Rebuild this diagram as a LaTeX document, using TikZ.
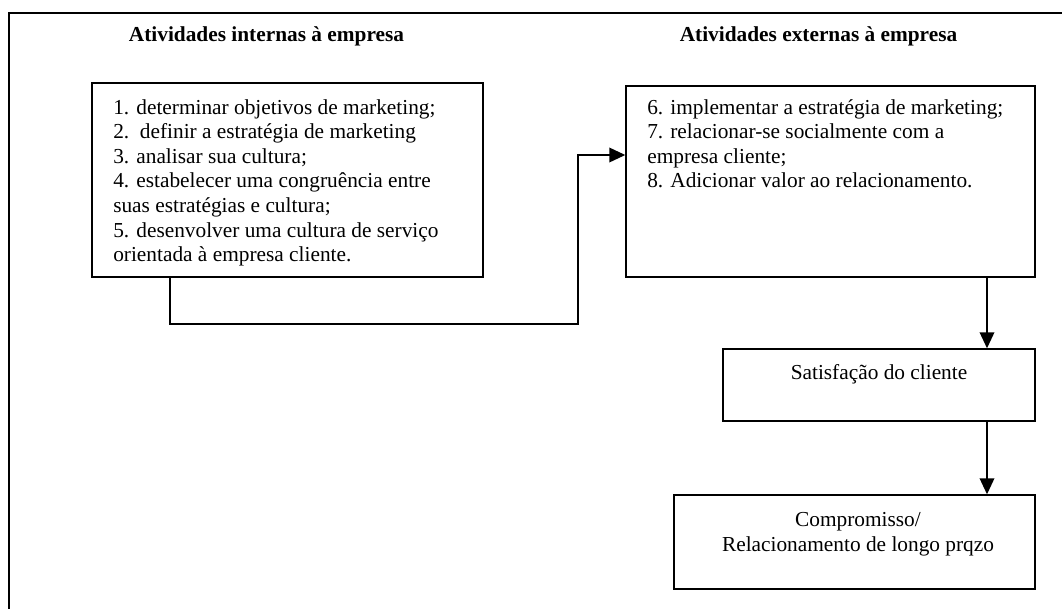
\documentclass[tikz,border=0pt]{standalone}
\usepackage{fontspec}
\setmainfont{Liberation Serif}
\usetikzlibrary{arrows.meta,fit}
\begin{document}
\begin{tikzpicture}[x=0.75pt,y=-0.75pt,
  every node/.style={font=\fontsize{16pt}{18.45pt}\selectfont},
  boxstyle/.style={draw,line width=1.1pt,inner sep=0pt},
  txt/.style={inner sep=0pt,align=left},
  ttl/.style={inner sep=0pt,font=\fontsize{16pt}{18.45pt}\selectfont\bfseries},
  arr/.style={line width=1.1pt,-{Triangle[length=12pt,width=11pt]}}]
\useasboundingbox (0,0) rectangle (1062,608);
% outer frame (cut off at right and bottom)
\draw[line width=1.1pt] (1070,13) -- (9,13) -- (9,616);
% titles
\node[ttl,anchor=base] (h1) at (266.5,41) {Atividades internas à empresa};
\node[ttl,anchor=base] (h2) at (818.5,41) {Atividades externas à empresa};
% boxes
\node[boxstyle,fit={(92,83) (483,277)}] (b1) {};
\node[boxstyle,fit={(626,86) (1035,277)}] (b2) {};
\node[boxstyle,fit={(723,349) (1035,421)}] (b3) {};
\node[boxstyle,fit={(674,495) (1035,589)}] (b4) {};
% texts
\node[txt,anchor=north west] (t1) at (113,99) {1. determinar objetivos de marketing;\\
2.\ \ definir a estratégia de marketing\\
3. analisar sua cultura;\\
4. estabelecer uma congruência entre\\
suas estratégias e cultura;\\
5. desenvolver uma cultura de serviço\\
orientada à empresa cliente.};
\node[txt,anchor=north west] (t2) at (647,99) {6. implementar a estratégia de marketing;\\
7. relacionar-se socialmente com a\\
empresa cliente;\\
8. Adicionar valor ao relacionamento.};
\node[inner sep=0pt,anchor=base] (t3) at (879,379) {Satisfação do cliente};
\node[inner sep=0pt,align=center,anchor=north] (t4) at (858,512.5) {Compromisso/\\Relacionamento de longo prqzo};
% connectors
\coordinate (k1) at (170,324);
\coordinate (k2) at (578,155);
\coordinate (k3) at (987,0);
\draw[arr] (b1.south -| k1) -- (k1) -- (k1 -| k2) -- (k2) -- (k2 -| b2.west);
\draw[arr] (b2.south -| k3) -- (b3.north -| k3);
\draw[arr] (b3.south -| k3) -- (b4.north -| k3);
\end{tikzpicture}
\end{document}
